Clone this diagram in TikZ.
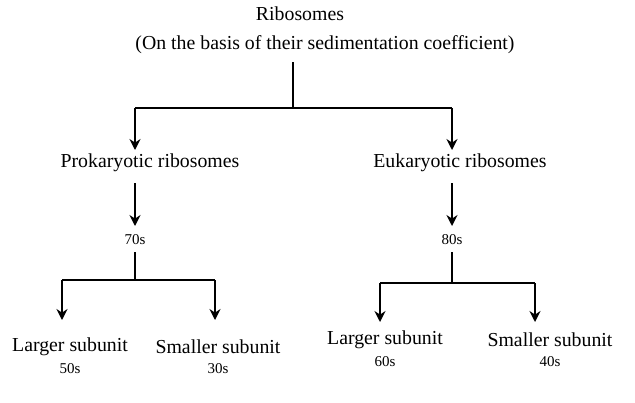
\documentclass[tikz,border=0pt]{standalone}
\usepackage{fontspec}
\setmainfont{Liberation Serif}
\usetikzlibrary{arrows.meta}
\begin{document}
\begin{tikzpicture}[x=1pt,y=-1pt,
  lbl/.style={inner sep=1pt,font=\fontsize{19.8}{22}\selectfont},
  sm/.style={inner sep=1pt,font=\fontsize{15}{17}\selectfont},
  ln/.style={line width=1.6pt},
  ar/.style={line width=1.6pt,-{Stealth[length=11pt,width=11pt]}}]
\useasboundingbox (0,0) rectangle (635,402);
\node[lbl] (rib) at (300,14) {Ribosomes};
\node[lbl] (basis) at (325,45) {(On the basis of their sedimentation coefficient)};
\node[lbl] (pro) at (150,163) {Prokaryotic ribosomes};
\node[lbl] (euk) at (460,163) {Eukaryotic ribosomes};
\node[sm] (s70) at (135,240) {70s};
\node[sm] (s80) at (452,240) {80s};
\node[lbl] (l1) at (70,347) {Larger subunit};
\node[sm] (s50) at (70,369) {50s};
\node[lbl] (r1) at (218,347) {Smaller subunit};
\node[sm] (s30) at (218,369) {30s};
\node[lbl] (l2) at (385,340) {Larger subunit};
\node[sm] (s60) at (385,362) {60s};
\node[lbl] (r2) at (550,340) {Smaller subunit};
\node[sm] (s40) at (550,362) {40s};
\coordinate (top) at (293,62);
\coordinate (j0) at (293,108);
\coordinate (jl) at (135,108);
\coordinate (jr) at (452,108);
\draw[ln] (top) -- (j0) (jl) -- (jr);
\draw[ar] (jl) -- (135,150);
\draw[ar] (jr) -- (452,150);
\draw[ar] (135,183) -- (135,226);
\draw[ar] (452,183) -- (452,226);
\coordinate (a0) at (135,252); \coordinate (a1) at (135,280);
\coordinate (al) at (62,280); \coordinate (ar) at (215,280);
\draw[ln] (a0) -- (a1) (al) -- (ar);
\draw[ar] (al) -- (62,320);
\draw[ar] (ar) -- (215,320);
\coordinate (b0) at (452,252); \coordinate (b1) at (452,283);
\coordinate (bl) at (380,283); \coordinate (br) at (535,283);
\draw[ln] (b0) -- (b1) (bl) -- (br);
\draw[ar] (bl) -- (380,322);
\draw[ar] (br) -- (535,322);
\end{tikzpicture}
\end{document}
